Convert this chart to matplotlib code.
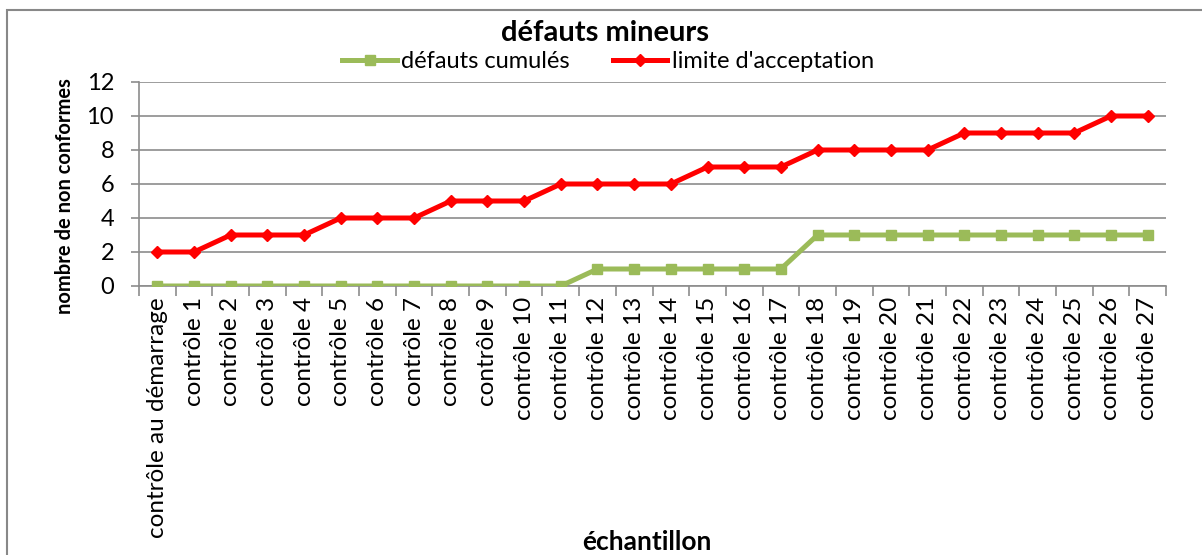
import matplotlib
matplotlib.use("Agg")
import matplotlib.pyplot as plt
import numpy as np
from matplotlib.patches import Rectangle

plt.rcParams['font.family'] = ['Lato', 'DejaVu Sans']

# données
categories = ["contrôle au démarrage"] + ["contrôle %d" % i for i in range(1, 28)]
defauts_cumules = [0, 0, 0, 0, 0, 0, 0, 0, 0, 0, 0, 0,
                   1, 1, 1, 1, 1, 1,
                   3, 3, 3, 3, 3, 3, 3, 3, 3, 3]
limite_acceptation = [2, 2, 3, 3, 3, 4, 4, 4, 5, 5, 5, 6, 6, 6, 6,
                      7, 7, 7, 8, 8, 8, 8, 9, 9, 9, 9, 10, 10]
y_ticks = [0, 2, 4, 6, 8, 10, 12]

W, H = 1202, 555
fig = plt.figure(figsize=(W / 100, H / 100), dpi=100)

# cadre du graphique (coupé à droite et en bas)
fig.patches.append(Rectangle((7 / W, -0.05), 1.2, (H - 10) / H + 0.05,
                             transform=fig.transFigure, fill=False,
                             edgecolor="#888888", linewidth=1.5))

ax = fig.add_axes([139 / W, 1 - 286 / H, (1166 - 139) / W, (286 - 82) / H])
x = np.arange(len(categories))

ax.plot(x, defauts_cumules, color="#9BBB59", linewidth=3.6, marker="s",
        markersize=6.5, label="défauts cumulés", zorder=3)
ax.plot(x, limite_acceptation, color="#FF0000", linewidth=3.6, marker="D",
        markersize=6.5, label="limite d'acceptation", zorder=4)

ax.set_xlim(-0.5, len(categories) - 0.5)
ax.set_ylim(0, 12)
ax.set_yticks(y_ticks)
ax.set_yticklabels([str(v) for v in y_ticks], fontsize=17)
ax.yaxis.grid(True, color="#8c8c8c", linewidth=1.2)
ax.set_axisbelow(True)

ax.set_xticks(x)
ax.set_xticklabels(categories, rotation=90, fontsize=17.5)
ax.set_xticks(np.arange(-0.5, len(categories)), minor=True)
ax.tick_params(axis="x", which="major", length=0, pad=8)
ax.tick_params(axis="x", which="minor", length=7, color="#8c8c8c", width=1.2)
ax.tick_params(axis="y", length=6, color="#8c8c8c", width=1.2, pad=12)

for s in ["top", "right"]:
    ax.spines[s].set_visible(False)
for s in ["left", "bottom"]:
    ax.spines[s].set_color("#8c8c8c")
    ax.spines[s].set_linewidth(1.2)

ax.set_ylabel("nombre de non conformes", fontsize=14.5, fontweight="bold")
ax.yaxis.set_label_coords(-0.062, 0.44)
fig.text(647 / W, 1 - 542 / H, "échantillon", fontsize=19, fontweight="bold",
         ha="center", va="center")
fig.text(605 / W, 1 - 33 / H, "défauts mineurs", fontsize=21, fontweight="bold",
         ha="center", va="center")

leg = fig.legend(loc="center", bbox_to_anchor=(608 / W, 1 - 62 / H), ncol=2,
                 frameon=False, fontsize=17, handlelength=2.3,
                 handletextpad=0.2, columnspacing=1.8, borderpad=0)

fig.savefig("out.png", dpi=100)
